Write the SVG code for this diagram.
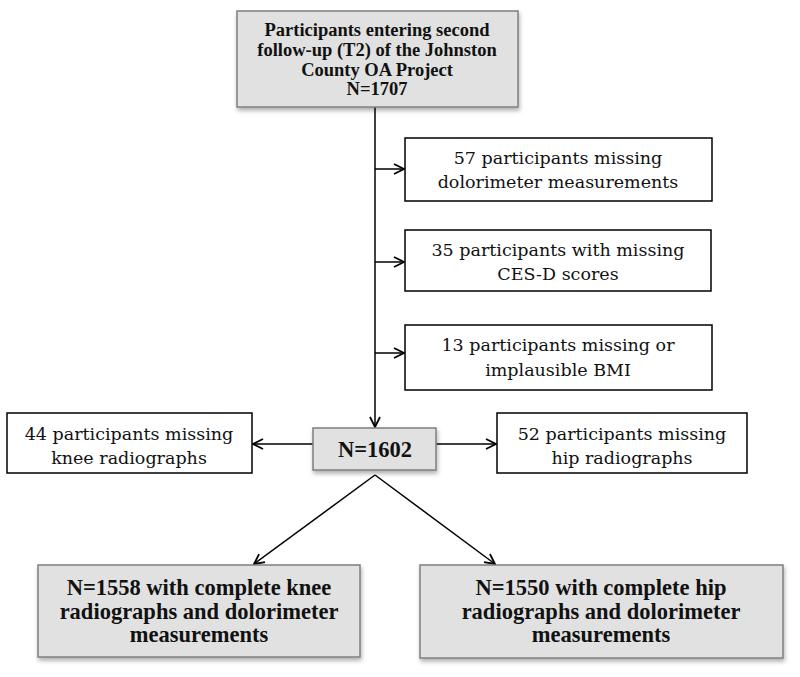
<svg xmlns="http://www.w3.org/2000/svg" width="800" height="677" viewBox="0 0 800 677">
<defs>
<style>
.g{fill:#e1e1e1;stroke:#7f7f7f;stroke-width:1.5;filter:url(#sh)}
.w{fill:#fff;stroke:#000;stroke-width:1.5}
.t{font-family:"DejaVu Serif","Liberation Serif",serif;font-size:17.5px;fill:#111;text-anchor:middle}
.b{font-family:"Liberation Serif","DejaVu Serif",serif;font-weight:bold;fill:#111;text-anchor:middle}
.s{font-size:18.5px}
.l{font-size:22.5px}
.c{fill:none;stroke:#000;stroke-width:1.5}
</style>
<filter id="sh" x="-10%" y="-10%" width="120%" height="130%">
<feDropShadow dx="1" dy="3" stdDeviation="2" flood-color="#000" flood-opacity="0.3"/>
</filter>
<marker id="ah" viewBox="0 0 12 12" refX="11" refY="6" markerWidth="12" markerHeight="12" markerUnits="userSpaceOnUse" orient="auto">
<path d="M1,1 L11,6 L1,11" fill="none" stroke="#000" stroke-width="1.8"/>
</marker>
</defs>
<g id="connectors">
<line class="c" x1="375" y1="107" x2="375" y2="427" marker-end="url(#ah)"/>
<line class="c" x1="375" y1="169" x2="404" y2="169" marker-end="url(#ah)"/>
<line class="c" x1="375" y1="262" x2="404" y2="262" marker-end="url(#ah)"/>
<line class="c" x1="375" y1="353" x2="404" y2="353" marker-end="url(#ah)"/>
<line class="c" x1="313" y1="444" x2="253" y2="444" marker-end="url(#ah)"/>
<line class="c" x1="436" y1="444" x2="496" y2="444" marker-end="url(#ah)"/>
<line class="c" x1="375" y1="475" x2="254" y2="564" marker-end="url(#ah)"/>
<line class="c" x1="375" y1="475" x2="495" y2="564" marker-end="url(#ah)"/>
</g>
<g id="n1707">
<rect class="g" x="237" y="11" width="281" height="96"/>
<text class="b s" x="377" y="36">Participants entering second</text>
<text class="b s" x="377" y="56">follow-up (T2) of the Johnston</text>
<text class="b s" x="377" y="76">County OA Project</text>
<text class="b s" x="377" y="95">N=1707</text>
</g>
<g id="dolor">
<rect class="w" x="405" y="138" width="307" height="63"/>
<text class="t" x="558" y="164">57 participants missing</text>
<text class="t" x="558" y="188">dolorimeter measurements</text>
</g>
<g id="cesd">
<rect class="w" x="405" y="230" width="306" height="61"/>
<text class="t" x="558" y="256">35 participants with missing</text>
<text class="t" x="558" y="280">CES-D scores</text>
</g>
<g id="bmi">
<rect class="w" x="405" y="325" width="307" height="65"/>
<text class="t" x="558" y="351">13 participants missing or</text>
<text class="t" x="558" y="376">implausible BMI</text>
</g>
<g id="n1602">
<rect class="g" x="313" y="428" width="123" height="42"/>
<text class="b l" x="375" y="457">N=1602</text>
</g>
<g id="knee">
<rect class="w" x="7" y="413" width="245" height="60"/>
<text class="t" x="129" y="440">44 participants missing</text>
<text class="t" x="129" y="464">knee radiographs</text>
</g>
<g id="hip">
<rect class="w" x="497" y="413" width="250" height="60"/>
<text class="t" x="622" y="440">52 participants missing</text>
<text class="t" x="622" y="464">hip radiographs</text>
</g>
<g id="n1558">
<rect class="g" x="38" y="565" width="322" height="92"/>
<text class="b l" x="199" y="595">N=1558 with complete knee</text>
<text class="b l" x="199" y="619">radiographs and dolorimeter</text>
<text class="b l" x="199" y="642">measurements</text>
</g>
<g id="n1550">
<rect class="g" x="420" y="565" width="363" height="93"/>
<text class="b l" x="601" y="595">N=1550 with complete hip</text>
<text class="b l" x="601" y="619">radiographs and dolorimeter</text>
<text class="b l" x="601" y="642">measurements</text>
</g>
</svg>
